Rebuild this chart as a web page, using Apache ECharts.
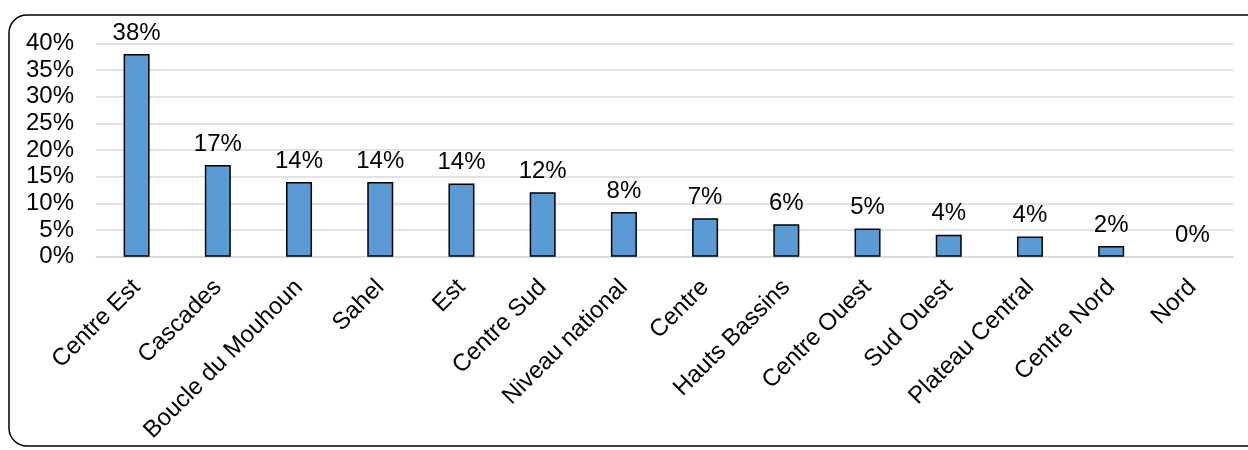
<!DOCTYPE html>
<html>
<head>
<meta charset="utf-8">
<script src="https://cdn.jsdelivr.net/npm/echarts@6/dist/echarts.min.js"></script>
<style>
html,body{margin:0;padding:0;background:#fff;}
#c{width:1248px;height:450px;}
</style>
</head>
<body>
<div id="c"></div>
<script>
const categories = ["Centre Est","Cascades","Boucle du Mouhoun","Sahel","Est","Centre Sud","Niveau national","Centre","Hauts Bassins","Centre Ouest","Sud Ouest","Plateau Central","Centre Nord","Nord"];
const values = [38.0, 17.2, 14.0, 14.0, 13.7, 12.1, 8.4, 7.2, 6.1, 5.3, 4.1, 3.8, 2.0, 0];
const yTicks = [0,5,10,15,20,25,30,35,40];

const chart = echarts.init(document.getElementById('c'));
const font = "'Liberation Sans', Arial, sans-serif";
chart.setOption({
  animation: false,
  graphic: [{
    type: 'rect',
    shape: {x: 9, y: 15, width: 1270, height: 431, r: 18},
    style: {fill: 'none', stroke: '#000', lineWidth: 1.5},
    silent: true
  }],
  grid: {left: 96, right: 15, top: 43.3, bottom: 193.3, containLabel: false},
  xAxis: {
    type: 'category',
    data: categories,
    axisLine: {show: true, lineStyle: {color: '#d9d9d9', width: 1.5}},
    axisTick: {show: false},
    axisLabel: {rotate: 45, interval: 0, fontFamily: font, fontSize: 24, color: '#000', margin: 27}
  },
  yAxis: {
    type: 'value',
    min: 0, max: 40, interval: 5,
    axisLine: {show: false},
    axisTick: {show: false},
    splitLine: {lineStyle: {color: '#d9d9d9', width: 1.5}},
    axisLabel: {fontFamily: font, fontSize: 24, color: '#000', margin: 22,
      formatter: v => yTicks.includes(v) ? v + '%' : ''}
  },
  series: [{
    type: 'bar',
    data: values.map(v => v === 0 ? {value: v, itemStyle: {borderWidth: 0}} : v),
    barWidth: 26,
    itemStyle: {color: '#5B9BD5', borderColor: '#000', borderWidth: 1.5},
    label: {show: true, position: 'top', distance: 9, fontFamily: font, fontSize: 24, color: '#000',
      formatter: p => Math.round(p.value) + '%'}
  }]
});
</script>
</body>
</html>
